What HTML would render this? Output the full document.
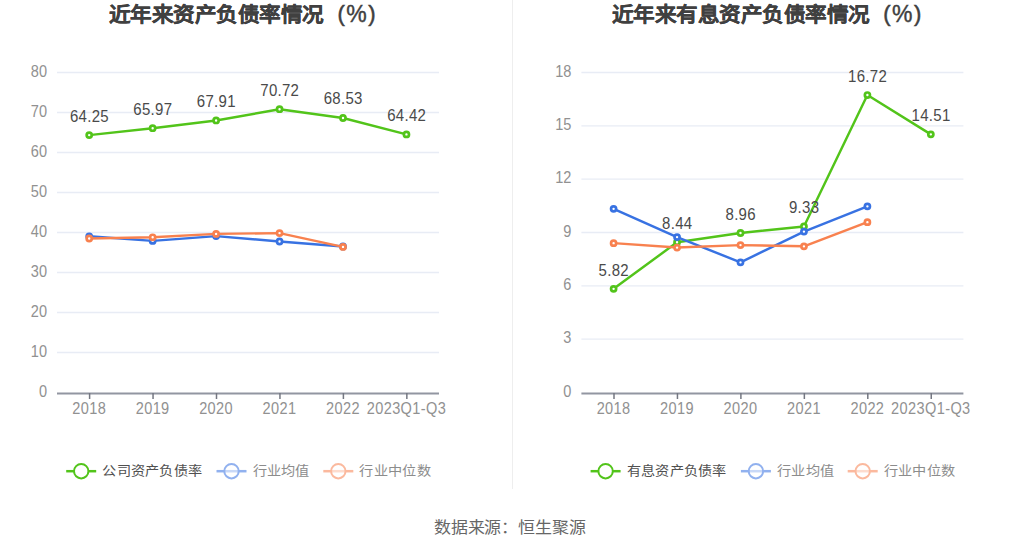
<!DOCTYPE html>
<html lang="zh-CN"><head><meta charset="utf-8"><style>
html,body{margin:0;padding:0;background:#fff;}
svg{display:block;}
text{font-family:"Liberation Sans",sans-serif;}
.par{font-size:22px;fill:#404040;stroke:#404040;stroke-width:0.5px;}
.pct{font-size:23px;fill:#404040;stroke:#404040;stroke-width:0.4px;}
.title{font-size:21.6px;font-weight:bold;fill:#404040;stroke:#404040;stroke-width:0.3px;}
.yl,.xl{font-size:15px;fill:#919191;}
.dl{font-size:15px;fill:#4a4a4a;}
.lg{font-size:14.2px;letter-spacing:0.65px;}
.src{font-size:17px;fill:#666;letter-spacing:0.25px;}
</style></head><body>
<svg width="1020" height="550" viewBox="0 0 1020 550">
<rect width="1020" height="550" fill="#fff"/>
<line x1="512.5" y1="0" x2="512.5" y2="489" stroke="#eeeeee" stroke-width="1"/>
<text transform="translate(108.50 22.20) scale(1.0 0.95)" class="title" text-anchor="start">近年来资产负债率情况</text>
<text x="337.4" y="20.6" class="par">(</text>
<text x="346.3" y="21.7" class="pct">%</text>
<text x="368.2" y="20.6" class="par">)</text>
<line x1="57.0" y1="72.5" x2="439.0" y2="72.5" stroke="#e8ecf5" stroke-width="1.4"/>
<text transform="translate(47.00 76.60) scale(0.97 1.05)" class="yl" text-anchor="end">80</text>
<line x1="57.0" y1="112.5" x2="439.0" y2="112.5" stroke="#e8ecf5" stroke-width="1.4"/>
<text transform="translate(47.00 116.60) scale(0.97 1.05)" class="yl" text-anchor="end">70</text>
<line x1="57.0" y1="152.5" x2="439.0" y2="152.5" stroke="#e8ecf5" stroke-width="1.4"/>
<text transform="translate(47.00 156.60) scale(0.97 1.05)" class="yl" text-anchor="end">60</text>
<line x1="57.0" y1="192.5" x2="439.0" y2="192.5" stroke="#e8ecf5" stroke-width="1.4"/>
<text transform="translate(47.00 196.60) scale(0.97 1.05)" class="yl" text-anchor="end">50</text>
<line x1="57.0" y1="232.5" x2="439.0" y2="232.5" stroke="#e8ecf5" stroke-width="1.4"/>
<text transform="translate(47.00 236.60) scale(0.97 1.05)" class="yl" text-anchor="end">40</text>
<line x1="57.0" y1="272.5" x2="439.0" y2="272.5" stroke="#e8ecf5" stroke-width="1.4"/>
<text transform="translate(47.00 276.60) scale(0.97 1.05)" class="yl" text-anchor="end">30</text>
<line x1="57.0" y1="312.5" x2="439.0" y2="312.5" stroke="#e8ecf5" stroke-width="1.4"/>
<text transform="translate(47.00 316.60) scale(0.97 1.05)" class="yl" text-anchor="end">20</text>
<line x1="57.0" y1="352.5" x2="439.0" y2="352.5" stroke="#e8ecf5" stroke-width="1.4"/>
<text transform="translate(47.00 356.60) scale(0.97 1.05)" class="yl" text-anchor="end">10</text>
<text transform="translate(47.00 396.60) scale(0.97 1.05)" class="yl" text-anchor="end">0</text>
<line x1="57.0" y1="393.4" x2="439.0" y2="393.4" stroke="#9296a1" stroke-width="2"/>
<line x1="89.60" y1="393" x2="89.60" y2="399" stroke="#747782" stroke-width="1.5"/>
<text transform="translate(89.20 413.60) scale(0.97 1.05)" class="xl" text-anchor="middle" letter-spacing="0.4">2018</text>
<line x1="153.05" y1="393" x2="153.05" y2="399" stroke="#747782" stroke-width="1.5"/>
<text transform="translate(152.65 413.60) scale(0.97 1.05)" class="xl" text-anchor="middle" letter-spacing="0.4">2019</text>
<line x1="216.50" y1="393" x2="216.50" y2="399" stroke="#747782" stroke-width="1.5"/>
<text transform="translate(216.10 413.60) scale(0.97 1.05)" class="xl" text-anchor="middle" letter-spacing="0.4">2020</text>
<line x1="279.95" y1="393" x2="279.95" y2="399" stroke="#747782" stroke-width="1.5"/>
<text transform="translate(279.55 413.60) scale(0.97 1.05)" class="xl" text-anchor="middle" letter-spacing="0.4">2021</text>
<line x1="343.40" y1="393" x2="343.40" y2="399" stroke="#747782" stroke-width="1.5"/>
<text transform="translate(343.00 413.60) scale(0.97 1.05)" class="xl" text-anchor="middle" letter-spacing="0.4">2022</text>
<line x1="406.85" y1="393" x2="406.85" y2="399" stroke="#747782" stroke-width="1.5"/>
<text transform="translate(406.45 413.60) scale(0.97 1.05)" class="xl" text-anchor="middle" letter-spacing="0.4">2023Q1-Q3</text>
<polyline points="89.20,135.10 152.65,128.22 216.10,120.46 279.55,109.22 343.00,117.98 406.45,134.42" fill="none" stroke="#52c41a" stroke-width="2.45" stroke-linejoin="round"/>
<circle cx="89.20" cy="135.10" r="2.55" fill="#fff" stroke="#52c41a" stroke-width="2.7"/>
<circle cx="152.65" cy="128.22" r="2.55" fill="#fff" stroke="#52c41a" stroke-width="2.7"/>
<circle cx="216.10" cy="120.46" r="2.55" fill="#fff" stroke="#52c41a" stroke-width="2.7"/>
<circle cx="279.55" cy="109.22" r="2.55" fill="#fff" stroke="#52c41a" stroke-width="2.7"/>
<circle cx="343.00" cy="117.98" r="2.55" fill="#fff" stroke="#52c41a" stroke-width="2.7"/>
<circle cx="406.45" cy="134.42" r="2.55" fill="#fff" stroke="#52c41a" stroke-width="2.7"/>
<polyline points="89.20,236.30 152.65,240.90 216.10,236.10 279.55,241.50 343.00,246.50" fill="none" stroke="#3872e2" stroke-width="2.45" stroke-linejoin="round"/>
<circle cx="89.20" cy="236.30" r="2.55" fill="#fff" stroke="#3872e2" stroke-width="2.7"/>
<circle cx="152.65" cy="240.90" r="2.55" fill="#fff" stroke="#3872e2" stroke-width="2.7"/>
<circle cx="216.10" cy="236.10" r="2.55" fill="#fff" stroke="#3872e2" stroke-width="2.7"/>
<circle cx="279.55" cy="241.50" r="2.55" fill="#fff" stroke="#3872e2" stroke-width="2.7"/>
<circle cx="343.00" cy="246.50" r="2.55" fill="#fff" stroke="#3872e2" stroke-width="2.7"/>
<polyline points="89.20,238.50 152.65,237.30 216.10,233.90 279.55,233.10 343.00,246.90" fill="none" stroke="#f8814f" stroke-width="2.45" stroke-linejoin="round"/>
<circle cx="89.20" cy="238.50" r="2.55" fill="#fff" stroke="#f8814f" stroke-width="2.7"/>
<circle cx="152.65" cy="237.30" r="2.55" fill="#fff" stroke="#f8814f" stroke-width="2.7"/>
<circle cx="216.10" cy="233.90" r="2.55" fill="#fff" stroke="#f8814f" stroke-width="2.7"/>
<circle cx="279.55" cy="233.10" r="2.55" fill="#fff" stroke="#f8814f" stroke-width="2.7"/>
<circle cx="343.00" cy="246.90" r="2.55" fill="#fff" stroke="#f8814f" stroke-width="2.7"/>
<text transform="translate(89.40 121.50) scale(1.0 1.05)" class="dl" text-anchor="middle" letter-spacing="0.3">64.25</text>
<text transform="translate(152.85 114.62) scale(1.0 1.05)" class="dl" text-anchor="middle" letter-spacing="0.3">65.97</text>
<text transform="translate(216.30 106.86) scale(1.0 1.05)" class="dl" text-anchor="middle" letter-spacing="0.3">67.91</text>
<text transform="translate(279.75 95.62) scale(1.0 1.05)" class="dl" text-anchor="middle" letter-spacing="0.3">70.72</text>
<text transform="translate(343.20 104.38) scale(1.0 1.05)" class="dl" text-anchor="middle" letter-spacing="0.3">68.53</text>
<text transform="translate(406.65 120.82) scale(1.0 1.05)" class="dl" text-anchor="middle" letter-spacing="0.3">64.42</text>
<g opacity="1.0"><line x1="66.2" y1="471.2" x2="96.2" y2="471.2" stroke="#52c41a" stroke-width="2.5"/><circle cx="81.2" cy="471.2" r="7.2" fill="#fff" fill-opacity="1" stroke="#52c41a" stroke-width="2"/></g>
<text transform="translate(102.20 475.40) scale(1.0 0.9)" class="lg" text-anchor="start" fill="#505050">公司资产负债率</text>
<g opacity="0.55"><line x1="216.5" y1="471.2" x2="246.5" y2="471.2" stroke="#3872e2" stroke-width="2.5"/><circle cx="231.5" cy="471.2" r="7.2" fill="#fff" fill-opacity="0.5" stroke="#3872e2" stroke-width="2"/></g>
<text transform="translate(252.50 475.40) scale(1.0 0.9)" class="lg" text-anchor="start" fill="#8c8c8c">行业均值</text>
<g opacity="0.55"><line x1="323.3" y1="471.2" x2="353.3" y2="471.2" stroke="#f8814f" stroke-width="2.5"/><circle cx="338.3" cy="471.2" r="7.2" fill="#fff" fill-opacity="0.5" stroke="#f8814f" stroke-width="2"/></g>
<text transform="translate(359.30 475.40) scale(1.0 0.9)" class="lg" text-anchor="start" fill="#8c8c8c">行业中位数</text>
<text transform="translate(611.50 22.20) scale(1.0 0.95)" class="title" text-anchor="start">近年来有息资产负债率情况</text>
<text x="883.2" y="20.6" class="par">(</text>
<text x="892.1" y="21.7" class="pct">%</text>
<text x="914.0" y="20.6" class="par">)</text>
<line x1="581.4" y1="72.5" x2="963.4" y2="72.5" stroke="#e8ecf5" stroke-width="1.4"/>
<text transform="translate(571.40 76.60) scale(0.97 1.05)" class="yl" text-anchor="end">18</text>
<line x1="581.4" y1="125.83333333333334" x2="963.4" y2="125.83333333333334" stroke="#e8ecf5" stroke-width="1.4"/>
<text transform="translate(571.40 129.93) scale(0.97 1.05)" class="yl" text-anchor="end">15</text>
<line x1="581.4" y1="179.16666666666669" x2="963.4" y2="179.16666666666669" stroke="#e8ecf5" stroke-width="1.4"/>
<text transform="translate(571.40 183.27) scale(0.97 1.05)" class="yl" text-anchor="end">12</text>
<line x1="581.4" y1="232.5" x2="963.4" y2="232.5" stroke="#e8ecf5" stroke-width="1.4"/>
<text transform="translate(571.40 236.60) scale(0.97 1.05)" class="yl" text-anchor="end">9</text>
<line x1="581.4" y1="285.83333333333337" x2="963.4" y2="285.83333333333337" stroke="#e8ecf5" stroke-width="1.4"/>
<text transform="translate(571.40 289.93) scale(0.97 1.05)" class="yl" text-anchor="end">6</text>
<line x1="581.4" y1="339.1666666666667" x2="963.4" y2="339.1666666666667" stroke="#e8ecf5" stroke-width="1.4"/>
<text transform="translate(571.40 343.27) scale(0.97 1.05)" class="yl" text-anchor="end">3</text>
<text transform="translate(571.40 396.60) scale(0.97 1.05)" class="yl" text-anchor="end">0</text>
<line x1="581.4" y1="393.4" x2="963.4" y2="393.4" stroke="#9296a1" stroke-width="2"/>
<line x1="614.00" y1="393" x2="614.00" y2="399" stroke="#747782" stroke-width="1.5"/>
<text transform="translate(613.60 413.60) scale(0.97 1.05)" class="xl" text-anchor="middle" letter-spacing="0.4">2018</text>
<line x1="677.45" y1="393" x2="677.45" y2="399" stroke="#747782" stroke-width="1.5"/>
<text transform="translate(677.05 413.60) scale(0.97 1.05)" class="xl" text-anchor="middle" letter-spacing="0.4">2019</text>
<line x1="740.90" y1="393" x2="740.90" y2="399" stroke="#747782" stroke-width="1.5"/>
<text transform="translate(740.50 413.60) scale(0.97 1.05)" class="xl" text-anchor="middle" letter-spacing="0.4">2020</text>
<line x1="804.35" y1="393" x2="804.35" y2="399" stroke="#747782" stroke-width="1.5"/>
<text transform="translate(803.95 413.60) scale(0.97 1.05)" class="xl" text-anchor="middle" letter-spacing="0.4">2021</text>
<line x1="867.80" y1="393" x2="867.80" y2="399" stroke="#747782" stroke-width="1.5"/>
<text transform="translate(867.40 413.60) scale(0.97 1.05)" class="xl" text-anchor="middle" letter-spacing="0.4">2022</text>
<line x1="931.25" y1="393" x2="931.25" y2="399" stroke="#747782" stroke-width="1.5"/>
<text transform="translate(930.85 413.60) scale(0.97 1.05)" class="xl" text-anchor="middle" letter-spacing="0.4">2023Q1-Q3</text>
<polyline points="613.60,288.83 677.05,242.26 740.50,233.01 803.95,226.43 867.40,95.06 930.85,134.34" fill="none" stroke="#52c41a" stroke-width="2.45" stroke-linejoin="round"/>
<circle cx="613.60" cy="288.83" r="2.55" fill="#fff" stroke="#52c41a" stroke-width="2.7"/>
<circle cx="677.05" cy="242.26" r="2.55" fill="#fff" stroke="#52c41a" stroke-width="2.7"/>
<circle cx="740.50" cy="233.01" r="2.55" fill="#fff" stroke="#52c41a" stroke-width="2.7"/>
<circle cx="803.95" cy="226.43" r="2.55" fill="#fff" stroke="#52c41a" stroke-width="2.7"/>
<circle cx="867.40" cy="95.06" r="2.55" fill="#fff" stroke="#52c41a" stroke-width="2.7"/>
<circle cx="930.85" cy="134.34" r="2.55" fill="#fff" stroke="#52c41a" stroke-width="2.7"/>
<polyline points="613.60,208.83 677.05,237.10 740.50,262.34 803.95,231.59 867.40,206.34" fill="none" stroke="#3872e2" stroke-width="2.45" stroke-linejoin="round"/>
<circle cx="613.60" cy="208.83" r="2.55" fill="#fff" stroke="#3872e2" stroke-width="2.7"/>
<circle cx="677.05" cy="237.10" r="2.55" fill="#fff" stroke="#3872e2" stroke-width="2.7"/>
<circle cx="740.50" cy="262.34" r="2.55" fill="#fff" stroke="#3872e2" stroke-width="2.7"/>
<circle cx="803.95" cy="231.59" r="2.55" fill="#fff" stroke="#3872e2" stroke-width="2.7"/>
<circle cx="867.40" cy="206.34" r="2.55" fill="#fff" stroke="#3872e2" stroke-width="2.7"/>
<polyline points="613.60,243.14 677.05,247.59 740.50,245.10 803.95,246.34 867.40,222.17" fill="none" stroke="#f8814f" stroke-width="2.45" stroke-linejoin="round"/>
<circle cx="613.60" cy="243.14" r="2.55" fill="#fff" stroke="#f8814f" stroke-width="2.7"/>
<circle cx="677.05" cy="247.59" r="2.55" fill="#fff" stroke="#f8814f" stroke-width="2.7"/>
<circle cx="740.50" cy="245.10" r="2.55" fill="#fff" stroke="#f8814f" stroke-width="2.7"/>
<circle cx="803.95" cy="246.34" r="2.55" fill="#fff" stroke="#f8814f" stroke-width="2.7"/>
<circle cx="867.40" cy="222.17" r="2.55" fill="#fff" stroke="#f8814f" stroke-width="2.7"/>
<text transform="translate(613.80 275.63) scale(1.0 1.05)" class="dl" text-anchor="middle" letter-spacing="0.3">5.82</text>
<text transform="translate(677.25 229.06) scale(1.0 1.05)" class="dl" text-anchor="middle" letter-spacing="0.3">8.44</text>
<text transform="translate(740.70 219.81) scale(1.0 1.05)" class="dl" text-anchor="middle" letter-spacing="0.3">8.96</text>
<text transform="translate(804.15 213.23) scale(1.0 1.05)" class="dl" text-anchor="middle" letter-spacing="0.3">9.33</text>
<text transform="translate(867.60 81.86) scale(1.0 1.05)" class="dl" text-anchor="middle" letter-spacing="0.3">16.72</text>
<text transform="translate(931.05 121.14) scale(1.0 1.05)" class="dl" text-anchor="middle" letter-spacing="0.3">14.51</text>
<g opacity="1.0"><line x1="590.6" y1="471.2" x2="620.6" y2="471.2" stroke="#52c41a" stroke-width="2.5"/><circle cx="605.6" cy="471.2" r="7.2" fill="#fff" fill-opacity="1" stroke="#52c41a" stroke-width="2"/></g>
<text transform="translate(626.60 475.40) scale(1.0 0.9)" class="lg" text-anchor="start" fill="#505050">有息资产负债率</text>
<g opacity="0.55"><line x1="740.9" y1="471.2" x2="770.9" y2="471.2" stroke="#3872e2" stroke-width="2.5"/><circle cx="755.9" cy="471.2" r="7.2" fill="#fff" fill-opacity="0.5" stroke="#3872e2" stroke-width="2"/></g>
<text transform="translate(776.90 475.40) scale(1.0 0.9)" class="lg" text-anchor="start" fill="#8c8c8c">行业均值</text>
<g opacity="0.55"><line x1="847.7" y1="471.2" x2="877.7" y2="471.2" stroke="#f8814f" stroke-width="2.5"/><circle cx="862.7" cy="471.2" r="7.2" fill="#fff" fill-opacity="0.5" stroke="#f8814f" stroke-width="2"/></g>
<text transform="translate(883.70 475.40) scale(1.0 0.9)" class="lg" text-anchor="start" fill="#8c8c8c">行业中位数</text>
<text transform="translate(434 532.8) scale(1 0.93)" class="src">数据来源：恒生聚源</text>
</svg>
</body></html>
